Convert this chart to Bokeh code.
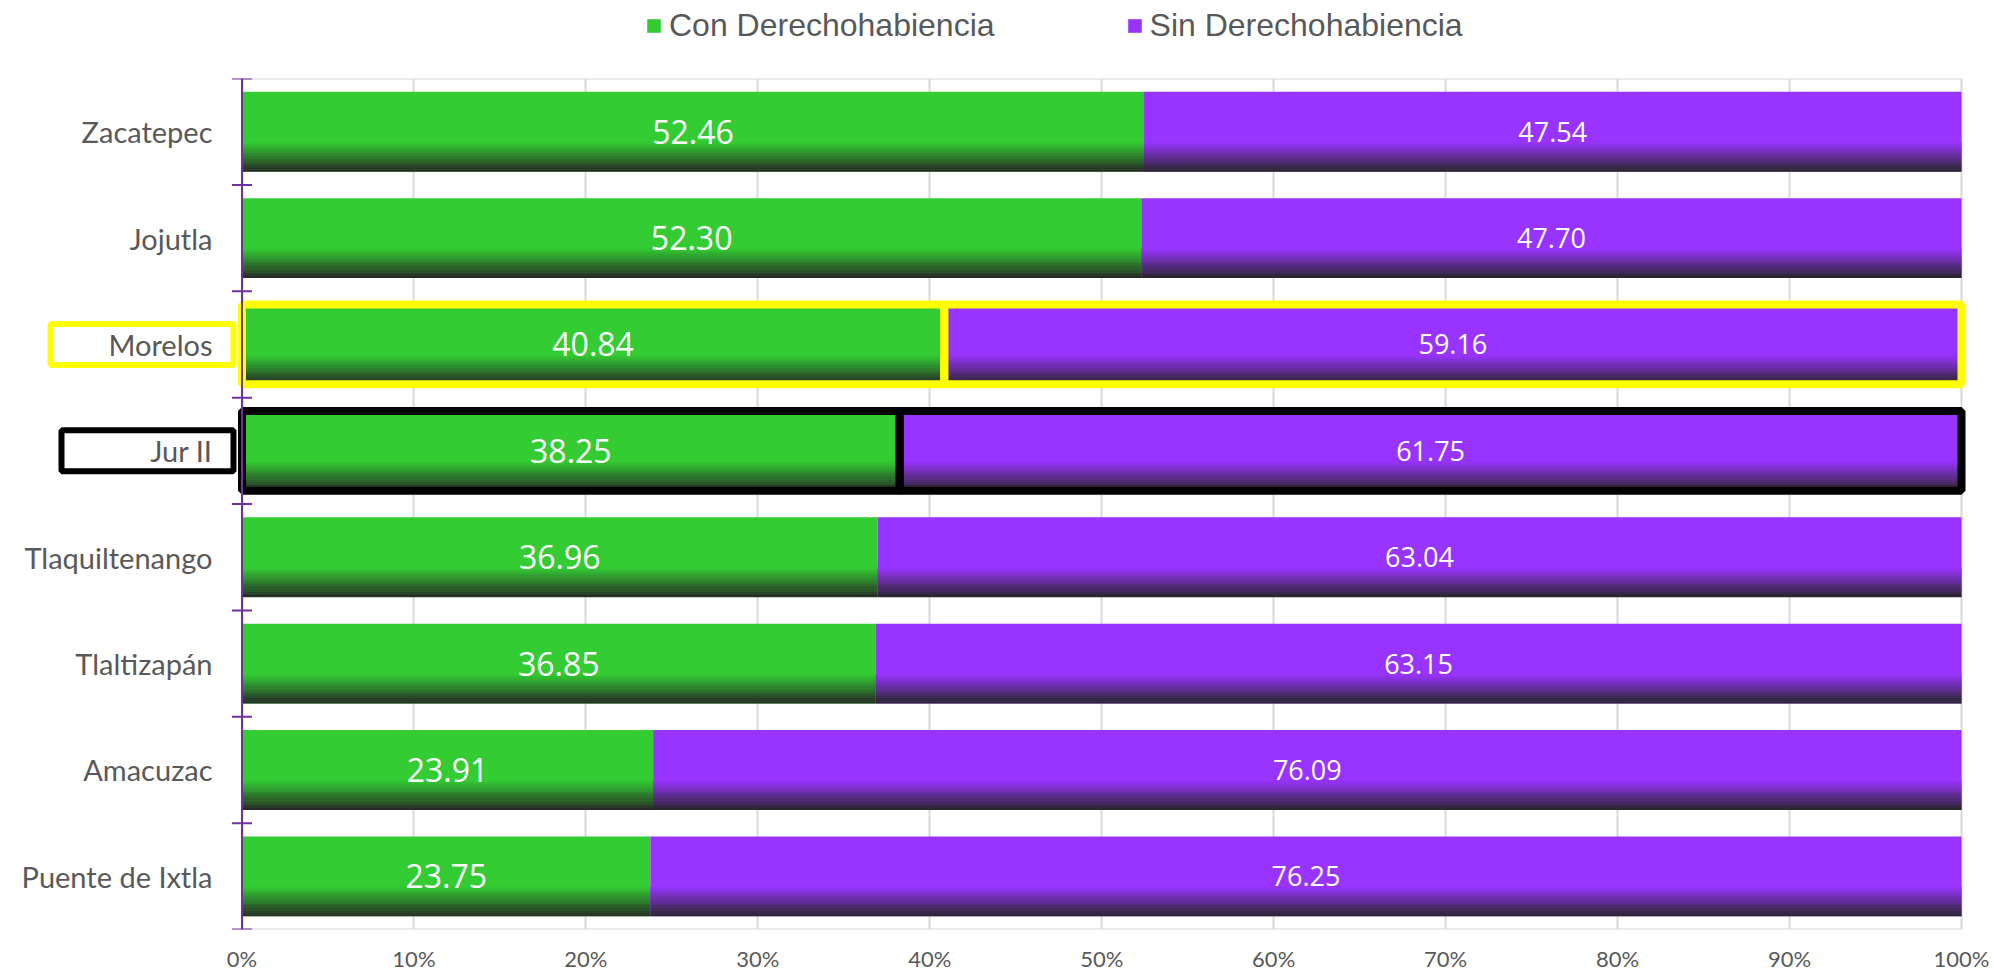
from bokeh.plotting import figure
from bokeh.layouts import column
from bokeh.models import (ColumnDataSource, FactorRange, Range1d, FixedTicker,
                          NumeralTickFormatter, Span, Legend, LegendItem)
from bokeh.transform import dodge
from bokeh.core.properties import value
from bokeh.embed import file_html
from bokeh.resources import INLINE

# ---------------- data ----------------
categories = ["Zacatepec", "Jojutla", "Morelos", "Jur II", "Tlaquiltenango",
              "Tlaltizapán", "Amacuzac", "Puente de Ixtla"]
con_derecho = [52.46, 52.30, 40.84, 38.25, 36.96, 36.85, 23.91, 23.75]
sin_derecho = [47.54, 47.70, 59.16, 61.75, 63.04, 63.15, 76.09, 76.25]
series_names = ["Con Derechohabiencia", "Sin Derechohabiencia"]
x_tick_values = [0, 10, 20, 30, 40, 50, 60, 70, 80, 90, 100]
highlight = {"Morelos": "#FFFF00", "Jur II": "#000000"}

# ---------------- styles / layout ----------------
GREEN = "#33CC33"
PURPLE = "#9933FF"
DARK = (38, 38, 38)
AXIS_COLOR = "#7030A0"
GRID_COLOR = "#D9D9D9"
TEXT_GRAY = "#595959"

LEFT_BORDER = 8
LEG_H = 78
AXIS_X = 233.5      # px from frame left to 0%
SPAN_X = 1719.5     # px from 0% to 100%
RIGHT_PAD = 6
frame_w = int(round(AXIS_X + SPAN_X + RIGHT_PAD))
frame_h = 851
TOTAL_W = 1990
TOTAL_H = 964
BAR_H = 0.75
GRAD_FRAC = 0.37
N_STRIPS = 16

n = len(categories)
cats_plot = categories[::-1]

x_start = -AXIS_X / SPAN_X
x_end = 1 + RIGHT_PAD / SPAN_X

p = figure(frame_width=frame_w, frame_height=frame_h,
           x_range=Range1d(x_start, x_end),
           y_range=FactorRange(factors=cats_plot),
           y_axis_location=None, toolbar_location=None, output_backend="svg",
           min_border_left=LEFT_BORDER, min_border_right=TOTAL_W - frame_w - LEFT_BORDER,
           min_border_top=0, min_border_bottom=TOTAL_H - LEG_H - frame_h,
           background_fill_color="white", border_fill_color="white",
           outline_line_color=None)

xt = [v / 100 for v in x_tick_values]
p.xgrid.ticker = FixedTicker(ticks=xt)
p.xgrid.grid_line_color = GRID_COLOR
p.xgrid.grid_line_width = 2
p.ygrid.grid_line_color = None

p.xaxis.ticker = FixedTicker(ticks=xt)
p.xaxis.formatter = NumeralTickFormatter(format="0%")
p.xaxis.axis_line_color = None
p.xaxis.major_tick_line_color = None
p.xaxis.minor_tick_line_color = None
p.xaxis.major_tick_out = 0
p.xaxis.major_label_standoff = 15
p.xaxis.major_label_text_font = "Lato"
p.xaxis.major_label_text_font_size = "22px"
p.xaxis.major_label_text_color = TEXT_GRAY

# plot-area frame lines (top of first category, bottom of last one)
top_src = ColumnDataSource(dict(cat=[categories[0]]))
bot_src = ColumnDataSource(dict(cat=[categories[-1]]))
for s, off in ((top_src, 0.5), (bot_src, -0.5)):
    p.segment(x0=0, x1=1, y0=dodge("cat", off, range=p.y_range),
              y1=dodge("cat", off, range=p.y_range), source=s,
              line_color=GRID_COLOR, line_width=2)

src = ColumnDataSource(dict(
    cat=categories,
    con_l=[0.0] * n,
    con_r=[c / 100 for c in con_derecho],
    sin_l=[c / 100 for c in con_derecho],
    sin_r=[(c + s) / 100 for c, s in zip(con_derecho, sin_derecho)],
    con_mid=[c / 200 for c in con_derecho],
    sin_mid=[(c + s / 2) / 100 for c, s in zip(con_derecho, sin_derecho)],
    con_txt=[f"{v:.2f}" for v in con_derecho],
    sin_txt=[f"{v:.2f}" for v in sin_derecho],
))


def hex_rgb(h):
    h = h.lstrip("#")
    return tuple(int(h[i:i + 2], 16) for i in (0, 2, 4))


def lerp(c1, c2, t):
    return "#%02x%02x%02x" % tuple(int(round(a + (b - a) * t)) for a, b in zip(c1, c2))


for col, l, r in ((GREEN, "con_l", "con_r"), (PURPLE, "sin_l", "sin_r")):
    p.hbar(y="cat", left=l, right=r, height=BAR_H, source=src,
           fill_color=col, line_color=None)
    strip_h = BAR_H * GRAD_FRAC / N_STRIPS
    rgb = hex_rgb(col)
    for k in range(N_STRIPS):
        t = (k + 0.5) / N_STRIPS
        off = -BAR_H / 2 + (k + 0.5) * strip_h
        p.hbar(y=dodge("cat", off, range=p.y_range), left=l, right=r,
               height=strip_h * 1.15, source=src,
               fill_color=lerp(DARK, rgb, t), line_color=None)

# highlighted bar outlines
for cat, lc in highlight.items():
    i = categories.index(cat)
    c, s = con_derecho[i], sin_derecho[i]
    p.hbar(y=[cat, cat], left=[0, c / 100], right=[c / 100, (c + s) / 100],
           height=BAR_H, fill_color=None, line_color=lc, line_width=8)

# value labels
p.text(x="con_mid", y="cat", text="con_txt", source=src,
       text_font=value("Open Sans"), text_font_size="32px", text_color="white",
       text_align="center", text_baseline="middle")
p.text(x="sin_mid", y="cat", text="sin_txt", source=src,
       text_font=value("Open Sans"), text_font_size="27px", text_color="white",
       text_align="center", text_baseline="middle")

# left axis line and ticks at category boundaries
p.add_layout(Span(location=0, dimension="height", line_color=AXIS_COLOR, line_width=2))
p.scatter(x=0, y=dodge("cat", -0.5, range=p.y_range), source=src,
          marker="dash", size=20, line_color=AXIS_COLOR, line_width=2)
p.scatter(x=0, y=dodge("cat", 0.5, range=p.y_range), source=top_src,
          marker="dash", size=20, line_color=AXIS_COLOR, line_width=2)

# category labels
p.text(x=0, y="cat", text="cat", source=src, x_offset=-29.5,
       text_font=value("Lato"), text_font_size="29px", text_color=TEXT_GRAY,
       text_align="right", text_baseline="middle")

# boxes around highlighted labels
BOX_RIGHT = 8.5
box_w = {"Morelos": 183, "Jur II": 172}
for cat, lc in highlight.items():
    w = box_w[cat]
    xc = -(BOX_RIGHT + w / 2) / SPAN_X
    p.rect(x=[xc], y=[cat], width=w, height=41, width_units="screen",
           height_units="screen", fill_color=None, line_color=lc, line_width=6)

# ---------------- legend strip on top ----------------
lf = figure(width=TOTAL_W, height=LEG_H, x_range=Range1d(0, 1), y_range=Range1d(0, 1),
            toolbar_location=None, output_backend="svg",
            x_axis_location=None, y_axis_location=None,
            min_border_left=0, min_border_right=0, min_border_top=0, min_border_bottom=0,
            outline_line_color=None, background_fill_color="white",
            border_fill_color="white")
lf.grid.visible = False
# legend proxies: one series-coloured bar each, kept outside the visible strip
leg_r = [lf.hbar(y=[-2], left=[0], right=[1], height=0.5, fill_color=c, line_color=None)
         for c in (GREEN, PURPLE)]
legend = Legend(items=[LegendItem(label=series_names[0], renderers=[leg_r[0]]),
                       LegendItem(label=series_names[1], renderers=[leg_r[1]])],
                orientation="horizontal", location=(637, 34),
                glyph_width=17, glyph_height=17, label_standoff=7, spacing=131,
                padding=0, margin=0, border_line_color=None,
                background_fill_alpha=0,
                label_text_font="Liberation Sans", label_text_font_size="32px",
                label_text_color=TEXT_GRAY)
lf.add_layout(legend)

layout = column(lf, p, spacing=0)
open("out.html", "w").write(file_html(layout, INLINE))
